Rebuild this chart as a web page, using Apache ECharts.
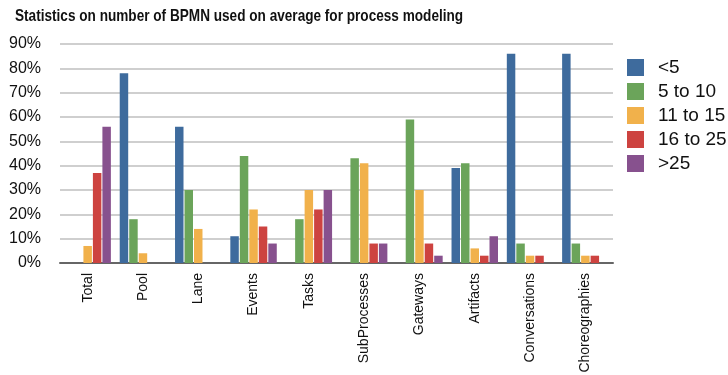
<!DOCTYPE html>
<html>
<head>
<meta charset="utf-8">
<script src="https://cdn.jsdelivr.net/npm/echarts@6/dist/echarts.min.js"></script>
<style>
  html, body { margin: 0; padding: 0; background: #fff; }
  #chart { width: 728px; height: 375px; }
</style>
</head>
<body>
<div id="chart"></div>
<script>
// BPMN element categories
const categories = ['Total', 'Pool', 'Lane', 'Events', 'Tasks', 'SubProcesses', 'Gateways', 'Artifacts', 'Conversations', 'Choreographies'];

// Share of respondents (%) per usage bucket
const under5   = [0, 78, 56, 11, 0, 0, 0, 39, 86, 86];
const from5to10  = [0, 18, 30, 44, 18, 43, 59, 41, 8, 8];
const from11to15 = [7, 4, 14, 22, 30, 41, 30, 6, 3, 3];
const from16to25 = [37, 0, 0, 15, 22, 8, 8, 3, 3, 3];
const over25   = [56, 0, 0, 8, 30, 8, 3, 11, 0, 0];

const seriesNames = ['<5', '5 to 10', '11 to 15', '16 to 25', '>25'];
const seriesData = [under5, from5to10, from11to15, from16to25, over25];
const colors = ['#3e6b9d', '#6ba45a', '#f1b14b', '#cd4340', '#87518e'];

const chart = echarts.init(document.getElementById('chart'));
const font = 'Liberation Sans, Arial, Helvetica, sans-serif';

chart.setOption({
  animation: false,
  color: colors,
  // condensed bold heading
  graphic: [{
    type: 'text',
    left: 15,
    top: 8,
    scaleX: 0.8,
    style: {
      text: 'Statistics on number of BPMN used on average for process modeling',
      fontFamily: font,
      fontWeight: 'bold',
      fontSize: 17,
      fill: '#111'
    }
  }],
  legend: {
    orient: 'vertical',
    left: 627,
    top: 58,
    padding: 0,
    itemWidth: 17,
    itemHeight: 17,
    itemGap: 5,
    icon: 'rect',
    textStyle: { fontFamily: font, fontSize: 19, color: '#111', padding: [0, 0, 0, 9] },
    data: seriesNames
  },
  grid: { left: 60, right: 115, top: 44, bottom: 112, outerBoundsMode: 'none', containLabel: false },
  xAxis: {
    type: 'category',
    data: categories,
    axisTick: { show: false },
    axisLine: { lineStyle: { color: '#666', width: 2 } },
    axisLabel: { rotate: 90, margin: 10, fontFamily: font, fontSize: 14, color: '#111', interval: 0 }
  },
  yAxis: {
    type: 'value',
    min: 0,
    max: 90,
    interval: 10,
    axisLine: { show: false },
    axisTick: { show: false },
    axisLabel: { formatter: '{value}%', margin: 19, fontFamily: font, fontSize: 16, color: '#111' },
    splitLine: { lineStyle: { color: '#cfcfcf', width: 2 } }
  },
  series: seriesNames.map((name, i) => ({
    name: name,
    type: 'bar',
    data: seriesData[i],
    barGap: '12%',
    barCategoryGap: '16%',
    itemStyle: { color: colors[i] }
  }))
});
</script>
</body>
</html>
